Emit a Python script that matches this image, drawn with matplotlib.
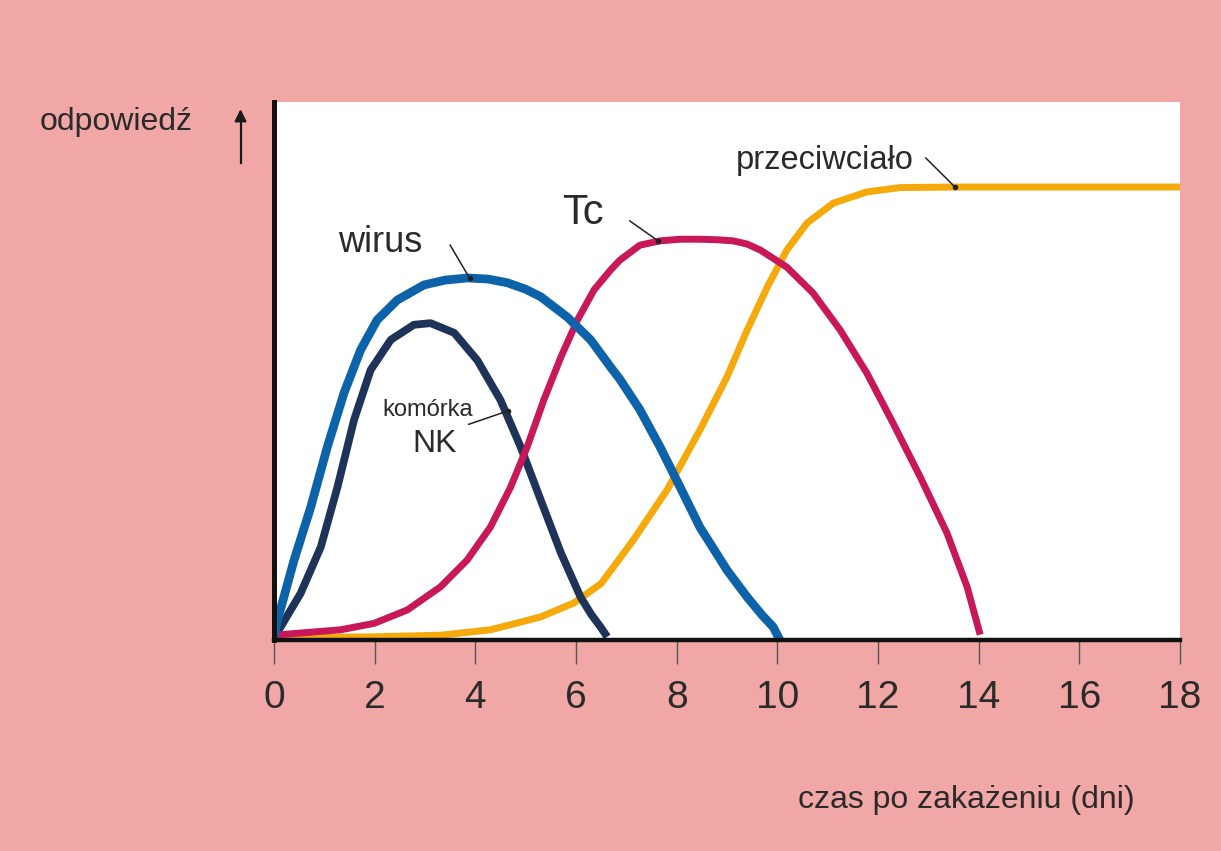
import matplotlib.pyplot as plt

# values (x in days, response in arbitrary units 0-100)
wirus_x = [0, 0.07, 0.4, 0.73, 1.06, 1.39, 1.72, 2.05, 2.45, 2.98, 3.4, 3.84, 4.25, 4.64,
           5.0, 5.3, 5.83, 6.29, 6.69, 6.87, 7.27, 7.67, 8.07, 8.46, 9.0, 9.4, 9.7, 9.92, 10.05]
wirus_y = [0.5, 3.7, 14.9, 24.7, 35.9, 45.9, 53.9, 59.5, 63.2, 66.0, 66.9, 67.3, 67.1, 66.4,
           65.2, 63.8, 60.0, 55.8, 50.7, 48.5, 42.8, 35.9, 28.4, 21.0, 13.0, 8.0, 4.6, 2.4, 0]

nk_x = [0, 0.13, 0.53, 0.93, 1.26, 1.59, 1.92, 2.32, 2.78, 3.11, 3.58, 4.04, 4.5, 4.9,
        5.3, 5.7, 6.09, 6.3, 6.49, 6.62]
nk_y = [0.5, 2.4, 8.7, 17.3, 28.4, 40.9, 50.2, 55.8, 58.6, 58.9, 57.1, 52.0, 44.6, 35.9,
        26.0, 16.2, 8.0, 4.8, 2.4, 0.6]

tc_x = [0, 1.32, 1.99, 2.65, 3.31, 3.84, 4.3, 4.7, 5.03, 5.36, 5.7, 6.03, 6.36, 6.69,
        6.87, 7.27, 7.67, 8.07, 8.46, 8.8, 9.12, 9.4, 9.66, 10.19, 10.71, 11.25, 11.78,
        12.3, 12.84, 13.37, 13.77, 14.03]
tc_y = [0.9, 1.9, 3.1, 5.6, 9.9, 14.9, 21.0, 28.4, 35.9, 44.6, 52.6, 59.5, 65.1, 68.8,
        70.6, 73.4, 74.2, 74.5, 74.5, 74.4, 74.2, 73.6, 72.5, 69.3, 64.5, 57.6, 49.6,
        40.3, 30.3, 19.9, 9.9, 1.0]

ab_x = [0, 1.99, 3.31, 4.3, 5.3, 5.96, 6.5, 7.14, 7.81, 8.46, 9.0, 9.4, 9.8, 10.19,
        10.59, 11.11, 11.78, 12.44, 13.5, 18]
ab_y = [0.4, 0.6, 0.9, 1.9, 4.3, 6.9, 10.5, 18.6, 27.9, 39.0, 48.9, 57.6, 65.6, 72.5,
        77.5, 81.2, 83.3, 84.1, 84.2, 84.2]

ticks = list(range(0, 19, 2))

pink = '#f1a7a5'
fig = plt.figure(figsize=(12.21, 8.51), dpi=100, facecolor=pink)
ax = fig.add_axes([0.2244, 0.2479, 0.742, 0.6322])
ax.set_facecolor('white')

style = dict(solid_capstyle='butt', solid_joinstyle='round')
ax.plot(ab_x, ab_y, color='#f6a90a', lw=5.0, **style)
ax.plot(nk_x, nk_y, color='#1e3358', lw=5.6, **style)
ax.plot(tc_x, tc_y, color='#c8185a', lw=5.0, **style)
ax.plot(wirus_x, wirus_y, color='#0c63aa', lw=6.3, **style)

ax.set_xlim(0, 18)
ax.set_ylim(0, 100)
for s in ['top', 'right']:
    ax.spines[s].set_visible(False)
ax.spines['left'].set_linewidth(3.6)
ax.spines['bottom'].set_linewidth(3.2)
ax.spines['left'].set_color('#111111')
ax.spines['bottom'].set_color('#111111')

ax.set_yticks([])
ax.set_xticks(ticks)
ax.set_xticklabels([str(t) for t in ticks], family='Liberation Sans', color='#2a2a2a')
ax.tick_params(axis='x', direction='out', length=17, width=1.0, color='#555555',
               labelsize=28, pad=12)

# curve labels with leader lines
lbl = dict(family='Liberation Sans', color='#2a2a2a')
ax.text(2.11, 73.8, 'wirus', fontsize=26, ha='center', va='center', **lbl)
ax.plot([3.50, 3.89], [73.4, 67.2], color='#222222', lw=1.1)
ax.plot([3.89], [67.2], 'o', color='#222222', ms=3)

ax.text(6.14, 79.4, 'Tc', fontsize=30, ha='center', va='center', **lbl)
ax.plot([7.07, 7.63], [77.9, 74.2], color='#222222', lw=1.1)
ax.plot([7.63], [74.2], 'o', color='#222222', ms=3)

ax.text(10.95, 89.2, 'przeciwciało', fontsize=23.5, ha='center', va='center', **lbl)
ax.plot([12.95, 13.53], [89.6, 84.2], color='#222222', lw=1.1)
ax.plot([13.53], [84.2], 'o', color='#222222', ms=3)

ax.text(3.06, 42.8, 'komórka', fontsize=17, ha='center', va='center', **lbl)
ax.text(3.2, 36.4, 'NK', fontsize=23, ha='center', va='center', **lbl)
ax.plot([3.87, 4.65], [40.1, 42.6], color='#222222', lw=1.1)
ax.plot([4.65], [42.6], 'o', color='#222222', ms=3)

# axis captions
fig.text(0.0328, 0.857, 'odpowiedź', fontsize=23, ha='left', va='center', **lbl)
fig.text(0.9296, 0.060, 'czas po zakażeniu (dni)', fontsize=23, ha='right', va='center', **lbl)
fig.add_artist(plt.Line2D([0.197, 0.197], [0.8085, 0.862], color='#1a1a1a', lw=1.6,
                          transform=fig.transFigure))
ax.annotate('', xy=(0.197, 0.875), xytext=(0.197, 0.855), xycoords='figure fraction',
            textcoords='figure fraction',
            arrowprops=dict(arrowstyle='-|>,head_length=0.7,head_width=0.35', color='#1a1a1a', lw=1.6))

fig.savefig('out.png', dpi=100, facecolor=pink)
